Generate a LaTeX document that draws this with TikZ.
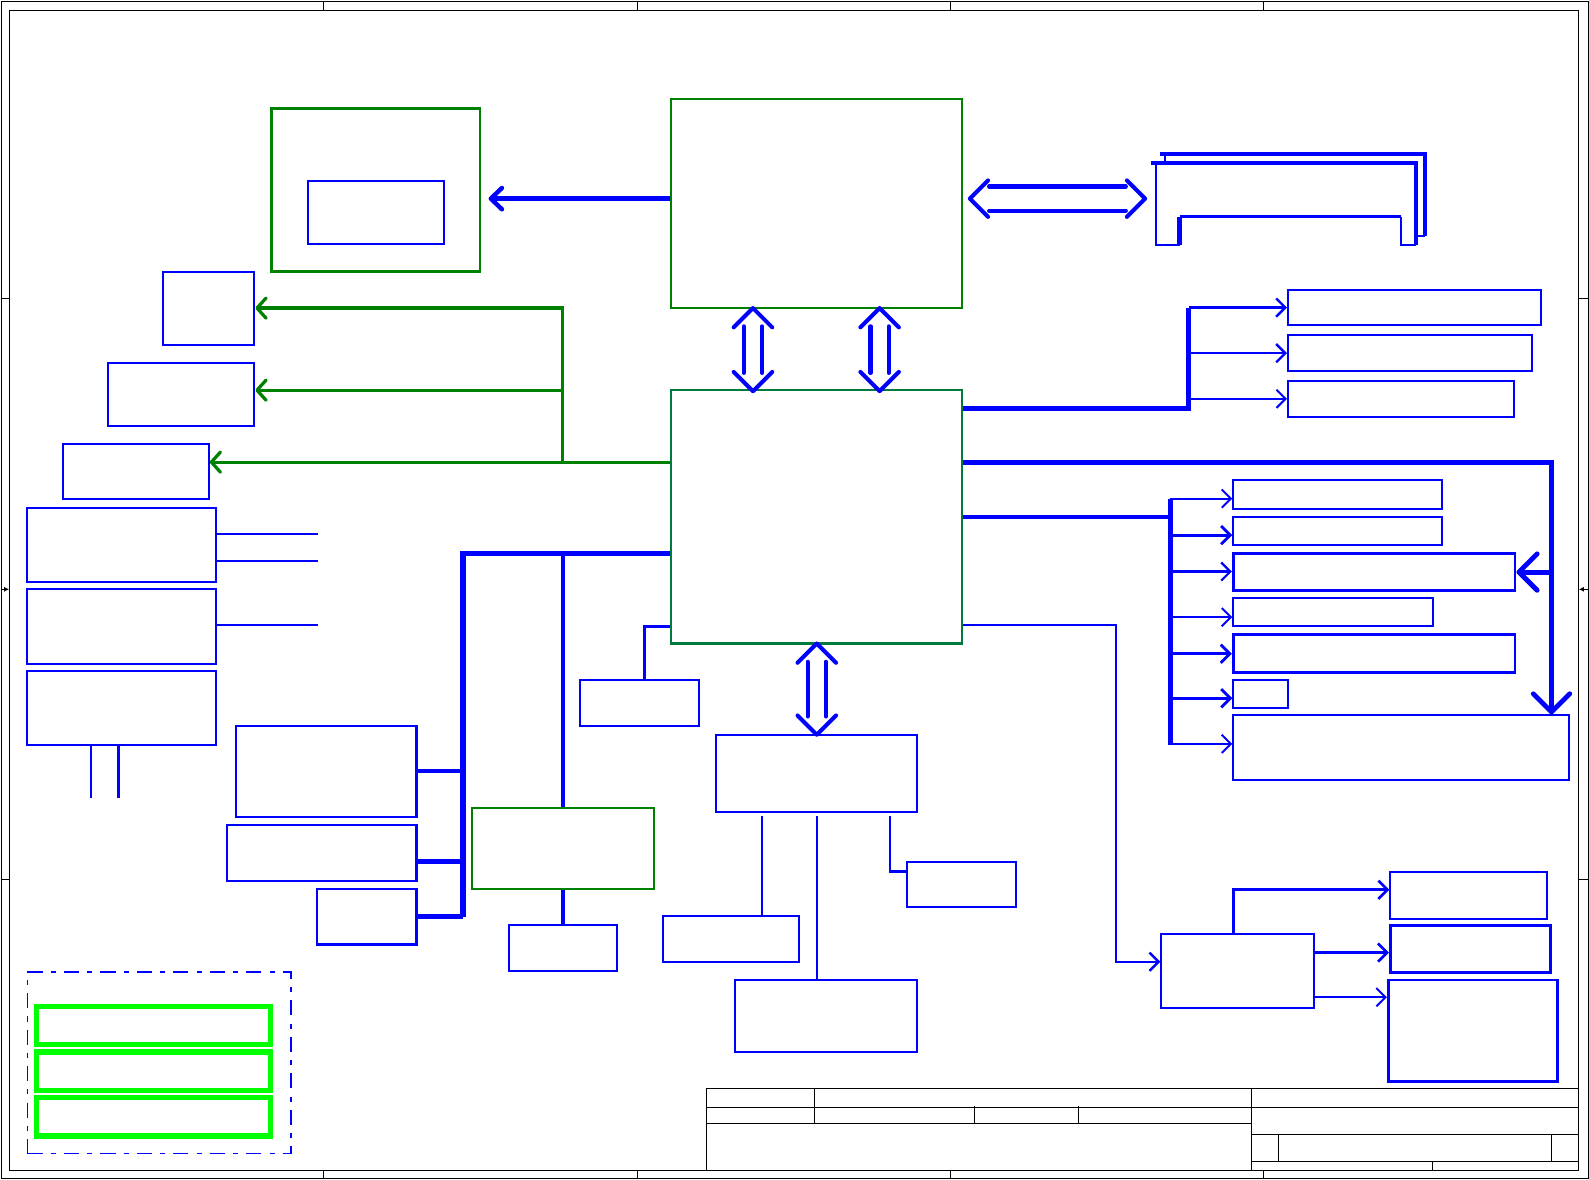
\documentclass[tikz,border=0pt]{standalone}
\usepackage{tikz}
\usetikzlibrary{arrows.meta,fit}

\definecolor{darkgrn}{RGB}{0,128,0}
\definecolor{pchgrn}{RGB}{0,122,61}
\definecolor{lgrn}{RGB}{0,255,0}

\begin{document}
\begin{tikzpicture}[x=0.5pt, y=-0.5pt,
                    >={Straight Barb[length=4.5pt,width=9pt]}]
    \tikzstyle{box}=[rectangle, draw=blue, line width=1pt, inner sep=0pt]
    \tikzstyle{heavybox}=[box, line width=1.4pt]
    \tikzstyle{gbox}=[rectangle, draw=darkgrn, line width=1.1pt, inner sep=0pt]
    \tikzstyle{legendbox}=[rectangle, draw=lgrn, line width=2.6pt, inner sep=0pt]
    \tikzstyle{wire}=[draw=blue, line width=1pt]
    \tikzstyle{midwire}=[draw=blue, line width=1.4pt]
    \tikzstyle{bus}=[draw=blue, line width=2.2pt]
    \tikzstyle{fatbus}=[draw=blue, line width=2.6pt]
    \tikzstyle{gwire}=[draw=darkgrn, line width=1.6pt,
                       -{Straight Barb[length=4.5pt,width=10pt,round]}]
    \tikzstyle{bigtip}=[-{Straight Barb[length=9pt,width=18pt,round]}]
    \tikzstyle{dbl}=[draw=blue, line width=2pt, line cap=round, line join=round]
    \tikzstyle{sheet}=[draw=black, line width=0.5pt]

    \useasboundingbox (0,0) rectangle (1568,1164);

    % sheet frame
    \draw[sheet] (1,1) rectangle (1567,1163);
    \draw[sheet] (9.5,10) rectangle (1558,1155);
    \foreach \x in {319,629,938,1247} {
        \draw[sheet] (\x,1) -- (\x,10);
        \draw[sheet] (\x,1155) -- (\x,1163);
    }
    \foreach \y in {295,868} {
        \draw[sheet] (1,\y) -- (9.5,\y);
        \draw[sheet] (1558,\y) -- (1567,\y);
    }
    \draw[sheet, -{Latex[length=2.5pt,width=2.5pt]}] (1,581.5) -- (9,581.5);
    \draw[sheet, -{Latex[length=2.5pt,width=2.5pt]}] (1567,581.5) -- (1558,581.5);

    % title block
    \draw[sheet] (697,1155) -- (697,1074) -- (1558,1074);
    \draw[sheet] (697,1093) -- (1558,1093);
    \draw[sheet] (697,1109) -- (1235,1109);
    \draw[sheet] (804,1074) -- (804,1109);
    \draw[sheet] (962,1091) -- (962,1109);
    \draw[sheet] (1064.5,1091) -- (1064.5,1109);
    \draw[sheet] (1235,1074) -- (1235,1155);
    \draw[sheet] (1235,1119) -- (1558,1119);
    \draw[sheet] (1235,1146) -- (1558,1146);
    \draw[sheet] (1262,1119) -- (1262,1146);
    \draw[sheet] (1531,1119) -- (1531,1146);
    \draw[sheet] (1414,1146) -- (1414,1155);

    % main chips
    \node[gbox, fit={(662,98) (949,304)}] (cpu) {};
    \node[gbox, draw=pchgrn, fit={(662,385) (949,635)}] (pch) {};
    \node[gbox, fit={(268,107) (474,268)}] (gpu) {};
    \node[box, fit={(304,179) (438,241)}] (vram) {};
    \node[gbox, fit={(466,797) (645,877)}] (ec) {};

    % left column
    \node[box, fit={(161,268) (251,340)}] (crt) {};
    \node[box, fit={(107,358) (251,420)}] (lcd) {};
    \node[box, fit={(62,438) (206,492)}] (hdmi) {};
    \node[box, fit={(27,501) (213,574)}] (lan) {};
    \node[box, fit={(27,581) (213,655)}] (audio) {};
    \node[box, fit={(27,662) (213,735)}] (codec) {};

    % lpc side
    \node[box, fit={(233,716) (411,806)}] (kbd) {};
    \node[box, fit={(224,814) (411,869)}] (tpad) {};
    \node[box, fit={(313,877) (411,932)}] (fan) {};
    \node[box, fit={(502,913) (609,958)}] (bios) {};
    \node[box, fit={(572,671) (690,716)}] (rtc) {};

    % hub below pch
    \node[box, fit={(707,725) (905,801)}] (hub) {};
    \node[box, fit={(654,904) (788,949)}] (hubA) {};
    \node[box, fit={(725,967) (905,1038)}] (hubB) {};
    \node[box, fit={(895,851) (1003,895)}] (hubC) {};

    % right side
    \node[box, fit={(1271,286) (1521,321)}] (sata1) {};
    \node[box, fit={(1271,331) (1512,366)}] (sata2) {};
    \node[box, fit={(1271,376) (1494,411)}] (sata3) {};
    \node[box, fit={(1217,474) (1423,502)}] (io1) {};
    \node[box, fit={(1217,510) (1423,538)}] (io2) {};
    \node[heavybox, fit={(1217,546) (1495,583)}] (io3) {};
    \node[box, fit={(1217,590) (1414,618)}] (io4) {};
    \node[heavybox, fit={(1217,626) (1495,664)}] (io5) {};
    \node[box, fit={(1217,671) (1271,699)}] (io6) {};
    \node[box, fit={(1217,706) (1548,770)}] (io7) {};
    \node[box, fit={(1146,922) (1297,995)}] (usbhub) {};
    \node[box, fit={(1372,860) (1527,907)}] (port1) {};
    \node[heavybox, fit={(1372,913) (1530,960)}] (port2) {};
    \node[heavybox, fit={(1370,967) (1537,1067)}] (port3) {};

    % legend
    \node[rectangle, draw=blue, line width=0.7pt, inner sep=0pt,
          dash pattern=on 7.5pt off 4pt on 2.5pt off 4pt,
          fit={(27,959) (287,1138)}] (legend) {};
    \node[legendbox, fit={(36,993) (267,1031)}] (key1) {};
    \node[legendbox, fit={(36,1038) (267,1076)}] (key2) {};
    \node[legendbox, fit={(36,1083) (267,1121)}] (key3) {};

    % memory module
    \draw[bus] (1145,152) -- (1406,152) -- (1406,233);
    \draw[wire] (1398,233) -- (1406,233);
    \draw[wire] (1150,152) -- (1150,161);
    \draw[bus] (1136,161) -- (1397,161) -- (1397,242);
    \draw[wire] (1141,161) -- (1141,242) -- (1164,242);
    \draw[midwire] (1164,214) -- (1382,214);
    \draw[wire] (1382,214) -- (1382,242) -- (1397,242);
    \draw[bus] (1164,214) -- (1164,242);

    % double arrows
    \draw[dbl] (957,196) ++(18,-18) -- ++(-18,18) -- ++(18,18);
    \draw[dbl] (1130,196) ++(-18,-18) -- ++(18,18) -- ++(-18,18);
    \draw[dbl] (976,184) -- (1111,184);
    \draw[dbl] (976,208) -- (1111,208);
    \foreach \x/\ya/\yb in {743/304/386, 868/304/386, 806/635/725} {
        \draw[dbl] (\x,\ya) ++(-19,19) -- ++(19,-19) -- ++(19,19);
        \draw[dbl] (\x,\yb) ++(-19,-19) -- ++(19,19) -- ++(19,-19);
        \draw[dbl] (\x-9,\ya+18) -- (\x-9,\yb-18);
        \draw[dbl] (\x+9,\ya+18) -- (\x+9,\yb-18);
    }

    % cpu to gpu
    \draw[bus, -{Straight Barb[length=5.5pt,width=10.5pt,round]}, shorten >=3.5pt]
        (cpu.west |- 0,196) -- (gpu.east |- 0,196);

    % video outputs
    \coordinate (gsplit) at (555,456);
    \draw[gwire] (pch.west |- gsplit) -- ([yshift=4.5pt]hdmi.east);
    \draw[gwire] (gsplit) |- (crt.east);
    \draw[gwire] (gsplit |- 0,385) -- (lcd.east |- 0,385);

    % left stubs
    \coordinate (lanA) at (314,527);
    \coordinate (lanB) at (314,554);
    \coordinate (audA) at (314,617);
    \coordinate (codA) at (90,787);
    \coordinate (codB) at (117,787);
    \draw[wire] (lan.east |- lanA) -- (lanA);
    \draw[wire] (lan.east |- lanB) -- (lanB);
    \draw[wire] (audio.east |- audA) -- (audA);
    \draw[wire, line width=0.8pt] (codA |- codec.south) -- (codA);
    \draw[midwire] (codB |- codec.south) -- (codB);

    % lpc bus
    \coordinate (lbus) at (457,546);
    \draw[fatbus] (pch.west |- lbus) -- (lbus) -- (457,905);
    \draw[bus] (kbd.east) -- (kbd.east -| lbus);
    \draw[bus] (tpad.east |- 0,850) -- (457,850);
    \draw[bus] (fan.east) -- (fan.east -| lbus);
    \draw[bus, line width=1.8pt] (ec.north |- lbus) -- (ec.north);
    \draw[bus, line width=1.8pt] (ec.south) -- (bios.north);
    \draw[midwire, line width=1.2pt] (pch.west |- 0,618) -| ([xshift=2.5pt]rtc.north);

    % hub
    \coordinate (hubP) at (752,805);
    \coordinate (hubQ) at (806,805);
    \coordinate (hubR) at (878,805);
    \draw[midwire, line width=1.2pt] (hubP) -- (hubP |- hubA.north);
    \draw[midwire, line width=1.2pt] (hubQ) -- (hubQ |- hubB.north);
    \draw[midwire, line width=1.2pt] (hubR) |- (hubC.west |- 0,860);

    % sata
    \coordinate (sbus) at (1173,403);
    \draw[bus] (pch.east |- sbus) -- (sbus) -- (sbus |- sata1.west);
    \draw[wire, line width=1.2pt, ->] (sbus |- sata1.west) -- (sata1.west);
    \draw[wire, line width=1.2pt, ->] (sbus |- sata2.west) -- (sata2.west);
    \draw[wire, ->] (sbus |- sata3.west) -- (sata3.west);

    % io branches
    \coordinate (mbus) at (1155,510);
    \draw[bus] (pch.east |- mbus) -- (mbus);
    \draw[bus] (1155,492) -- (1155,735);
    \foreach \n/\y/\w in {io1/492/1pt, io2/528/1.4pt, io3/564/1.1pt, io4/609/1pt,
                          io5/645/1.4pt, io6/689/1.4pt, io7/734/1pt}
        \draw[draw=blue, line width=\w, ->] (1155,\y) -- (\n.west |- 1155,\y);

    \coordinate (ebus) at (1531,456);
    \draw[bus, line width=2.4pt, bigtip] (pch.east |- ebus) -- (ebus) -- (ebus |- io7.north);
    \draw[bus, line width=2.4pt, bigtip] (ebus |- io3.east) -- (io3.east);

    % usb hub
    \draw[midwire, line width=1.2pt, ->] (pch.east |- 0,617) -- (1101,617) |- (usbhub.west |- 0,949);
    \draw[midwire, line width=1.3pt, ->] (1217,0 |- usbhub.north) |- (port1.west |- 0,878);
    \draw[midwire, line width=1.3pt, ->] (usbhub.east |- 0,940) -- (port2.west |- 0,940);
    \draw[wire, ->] (usbhub.east |- 0,984) -- (port3.west |- 0,984);
\end{tikzpicture}
\end{document}
